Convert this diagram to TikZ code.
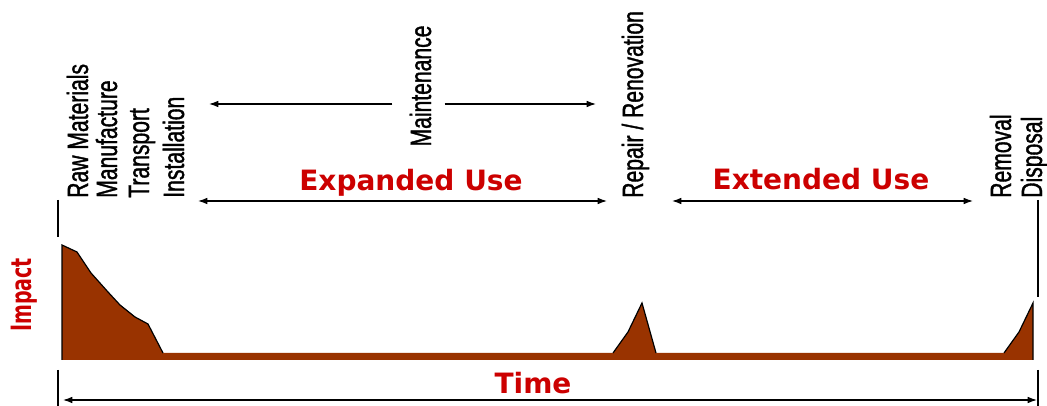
\documentclass[tikz,border=0pt]{standalone}
\usepackage{fontspec}
\setmainfont{Liberation Sans}
\newfontfamily\narrowfont[FakeStretch=0.72,FakeBold=1.2]{Liberation Sans}
\newfontfamily\headfont{DejaVu Sans}
\newfontfamily\impactfont[FakeStretch=0.68]{DejaVu Sans}
\usetikzlibrary{arrows.meta}
\definecolor{impactbrown}{HTML}{993300}
\definecolor{headred}{HTML}{CC0000}
\tikzset{
  phase/.style={rotate=90,anchor=base west,inner sep=0pt,
    font=\narrowfont\fontsize{22}{22}\selectfont},
  head/.style={text=headred,inner sep=0pt,anchor=base,
    font=\headfont\bfseries\fontsize{21}{21}\selectfont},
  span/.style={{Latex[length=7pt,width=5pt]}-{Latex[length=7pt,width=5pt]},line width=0.9pt},
  oneway/.style={-{Latex[length=7pt,width=5pt]},line width=0.9pt},
  tick/.style={line width=1.4pt}
}
\begin{document}
\begin{tikzpicture}[x=0.75pt,y=0.75pt]
\useasboundingbox (0,0) rectangle (1047,406);
% impact profile
\fill[impactbrown] (62,46) -- (62,161) -- (77,154) -- (91,133) -- (108,114) -- (120,101)
  -- (135,89) -- (148,82) -- (163,53) -- (613,53) -- (628,74) -- (642,103) -- (656,53)
  -- (1004,53) -- (1019,74) -- (1033,103) -- (1033,46) -- cycle;
\draw[line width=0.9pt] (62,46) -- (62,161) -- (77,154) -- (91,133) -- (108,114) -- (120,101)
  -- (135,89) -- (148,82) -- (163,53);
\draw[line width=0.9pt] (613,53) -- (628,74) -- (642,103) -- (656,53);
\draw[line width=0.9pt] (1004,53) -- (1019,74) -- (1033,103) -- (1033,46);
% ticks
\draw[tick] (58,206) -- (58,169);
\draw[tick] (58,36) -- (58,0);
\draw[tick] (1038,206) -- (1038,109);
\draw[tick] (1038,36) -- (1038,0);
% phase labels
\node[phase] (raw) at (88,208) {Raw Materials};
\node[phase] (manu) at (117,208) {Manufacture};
\node[phase] (trans) at (149,208) {Transport};
\node[phase] (inst) at (184,208) {Installation};
\node[phase] (repair) at (643,208) {Repair / Renovation};
\node[phase] (removal) at (1011,208) {Removal};
\node[phase] (disp) at (1042,208) {Disposal};
\node[phase,anchor=base] (maint) at (431,320) {Maintenance};
% spans
\coordinate (expL) at (198,205);
\coordinate (expR) at (607,205);
\coordinate (extL) at (672,205);
\coordinate (extR) at (973,205);
\coordinate (timeL) at (63,6);
\coordinate (timeR) at (1037,6);
\coordinate (mL) at (209,302);
\coordinate (mR) at (596,302);
\draw[span] (expL) -- (expR);
\draw[span] (extL) -- (extR);
\draw[span] (timeL) -- (timeR);
\draw[oneway] (maint.north |- mL) ++(-17,0) -- (mL);
\draw[oneway] (maint.south |- mR) ++(13,0) -- (mR);
\node[head] (expanded) at (411,215) {Expanded Use};
\node[head] (extended) at (821,216) {Extended Use};
\node[head] (time) at (533,12) {Time};
\node[head,rotate=90,font=\impactfont\bfseries\fontsize{21}{21}\selectfont] (impact) at (32,111) {Impact};
\end{tikzpicture}
\end{document}
